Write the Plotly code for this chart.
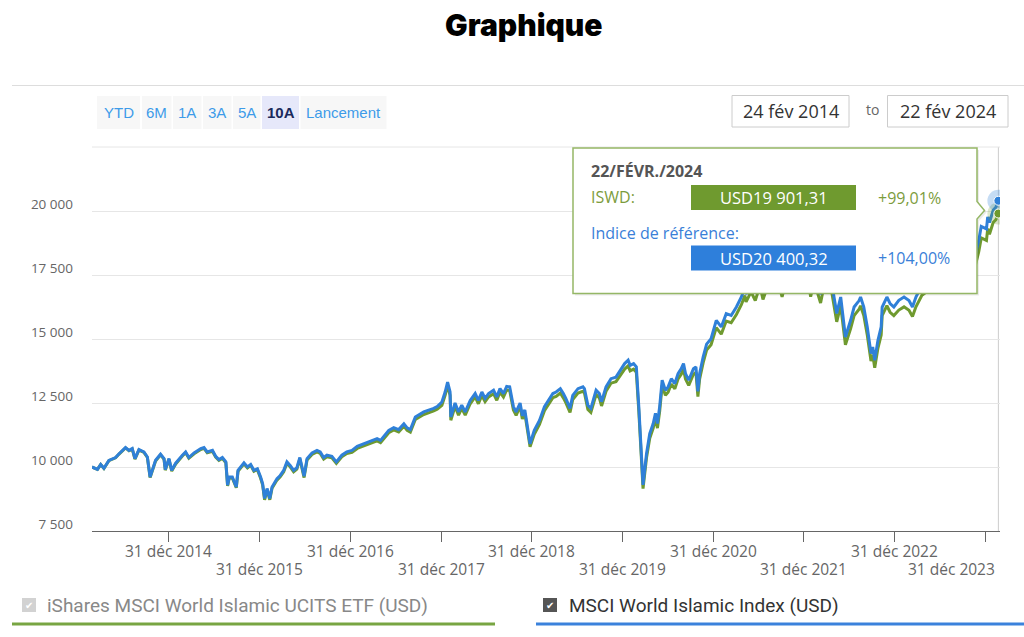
import plotly.graph_objects as go

# ---------------- DATA ----------------
dates = [
    "2014-02-24", "2014-03-18", "2014-03-31", "2014-04-13", "2014-05-03", "2014-05-30", "2014-06-13",
    "2014-07-09", "2014-07-23", "2014-08-05", "2014-08-16", "2014-09-01", "2014-09-21", "2014-10-05",
    "2014-10-16", "2014-11-07", "2014-11-27", "2014-12-11", "2014-12-16", "2014-12-31",
    "2015-01-11", "2015-01-27", "2015-02-23", "2015-03-08", "2015-03-21", "2015-04-11", "2015-05-08",
    "2015-05-21", "2015-06-03", "2015-06-24", "2015-07-07", "2015-07-20", "2015-08-03", "2015-08-17",
    "2015-08-24", "2015-08-31", "2015-09-12", "2015-09-28", "2015-10-05", "2015-10-16", "2015-10-29",
    "2015-11-12", "2015-11-25", "2015-12-08", "2015-12-22",
    "2016-01-04", "2016-01-12", "2016-01-20", "2016-01-30", "2016-02-10", "2016-02-19", "2016-03-10",
    "2016-03-23", "2016-04-06", "2016-04-19", "2016-05-02", "2016-05-16", "2016-05-29", "2016-06-10",
    "2016-06-27", "2016-07-09", "2016-07-29", "2016-08-18", "2016-08-31", "2016-09-14", "2016-09-27",
    "2016-10-17", "2016-11-04", "2016-11-13", "2016-11-26", "2016-12-16",
    "2017-01-06", "2017-01-27", "2017-02-16", "2017-03-08", "2017-03-28", "2017-04-17", "2017-05-01",
    "2017-05-14", "2017-06-03", "2017-06-23", "2017-07-13", "2017-08-03", "2017-08-16", "2017-08-29",
    "2017-09-18", "2017-10-22", "2017-11-18", "2017-12-01", "2017-12-15",
    "2018-01-03", "2018-01-16", "2018-01-26", "2018-02-05", "2018-02-08", "2018-02-25", "2018-03-11",
    "2018-03-24", "2018-04-07", "2018-04-27", "2018-05-17", "2018-05-30", "2018-06-13", "2018-06-26",
    "2018-07-10", "2018-07-30", "2018-08-12", "2018-08-25", "2018-09-08", "2018-09-21", "2018-10-03",
    "2018-10-18", "2018-10-29", "2018-11-14", "2018-11-23", "2018-12-03", "2018-12-17", "2018-12-24",
    "2019-01-10", "2019-01-31", "2019-02-20", "2019-03-12", "2019-03-26", "2019-04-08", "2019-04-25",
    "2019-05-07", "2019-05-17", "2019-06-03", "2019-06-14", "2019-07-05", "2019-07-25", "2019-07-31",
    "2019-08-14", "2019-08-26", "2019-09-05", "2019-09-16", "2019-09-29", "2019-10-08", "2019-10-26",
    "2019-11-15", "2019-12-05", "2019-12-26",
    "2020-01-09", "2020-01-23", "2020-01-31", "2020-02-14", "2020-02-25", "2020-03-06", "2020-03-16",
    "2020-03-23", "2020-04-06", "2020-04-19", "2020-05-03", "2020-05-12", "2020-05-20", "2020-05-29",
    "2020-06-08", "2020-06-21", "2020-07-02", "2020-07-15", "2020-07-29", "2020-08-11", "2020-08-24",
    "2020-09-02", "2020-09-10", "2020-09-23", "2020-10-12", "2020-10-22", "2020-10-30", "2020-11-06",
    "2020-11-20", "2020-12-04", "2020-12-22",
    "2021-01-12", "2021-02-01", "2021-02-21", "2021-03-13", "2021-04-03", "2021-04-23", "2021-05-07",
    "2021-05-12", "2021-06-01", "2021-06-18", "2021-07-07", "2021-07-19", "2021-08-15", "2021-09-06",
    "2021-10-04", "2021-11-08", "2021-11-30", "2021-12-27",
    "2022-01-04", "2022-01-27", "2022-02-10", "2022-03-08", "2022-03-29", "2022-04-20", "2022-05-01",
    "2022-05-12", "2022-05-28", "2022-06-10", "2022-06-16", "2022-07-07", "2022-07-21", "2022-08-10",
    "2022-08-16", "2022-08-29", "2022-09-12", "2022-09-27", "2022-10-04", "2022-10-12", "2022-10-25",
    "2022-11-07", "2022-11-11", "2022-11-30", "2022-12-13", "2022-12-28",
    "2023-01-17", "2023-02-07", "2023-02-27", "2023-03-13", "2023-03-27", "2023-04-20", "2023-05-31",
    "2023-06-30", "2023-07-31", "2023-08-18", "2023-09-15", "2023-10-27", "2023-11-30", "2023-12-05",
    "2023-12-15", "2024-01-05", "2024-01-10", "2024-01-17", "2024-02-01", "2024-02-12", "2024-02-22",
]

index_values = [  # MSCI World Islamic Index (USD), rebased to 10 000
    10000, 9910, 10100, 9950, 10260, 10370, 10520,
    10760, 10650, 10720, 10330, 10680, 10590, 10390,
    9610, 10260, 10500, 10330, 9900, 10330,
    9870, 10150, 10460, 10590, 10370, 10550, 10720,
    10760, 10590, 10650, 10420, 10290, 10370, 10200,
    9290, 9610, 9610, 9220, 9870, 10000, 10160,
    10000, 10100, 9870, 9930,
    9610, 9350, 8770, 9160, 8770, 9220, 9540,
    9670, 9870, 10200, 10060, 9870, 9970, 10370,
    9640, 10330, 10550, 10650, 10590, 10370, 10460,
    10420, 10200, 10290, 10460, 10590,
    10650, 10810, 10890, 10980, 11040, 11110, 11040,
    11200, 11430, 11540, 11460, 11690, 11530, 11460,
    11950, 12150, 12230, 12290, 12360,
    12540, 12930, 13320, 12930, 11950, 12500, 12150,
    12420, 12150, 12600, 12870, 12600, 12930, 12680,
    12870, 13000, 12740, 13060, 12870, 13150, 13130,
    12360, 12150, 12500, 12000, 12230, 11430, 10910,
    11430, 11820, 12360, 12680, 12870, 12930, 13060,
    12870, 12680, 12290, 12800, 13060, 13130, 13060,
    12410, 12290, 12600, 13000, 12870, 12550, 13130,
    13450, 13510, 13840,
    14040, 14170, 13970, 14040, 13910, 12360, 10780,
    9300, 10520, 11300, 11700, 12100, 11700, 12360,
    13390, 13000, 13130, 13450, 13260, 13650, 13840,
    14040, 13650, 13390, 13840, 13910, 12950, 13650,
    14290, 14800, 15010,
    15730, 15470, 15990, 15920, 16250, 16640, 17000,
    16750, 17150, 16800, 17400, 16850, 17600, 17950,
    16950, 18300, 17700, 18500,
    18450, 17000, 17600, 16750, 17800, 17300, 16640,
    16000, 16640, 15470, 15080, 15730, 16250, 16500,
    16640, 16250, 15470, 14430, 14690, 14170, 14950,
    15470, 16250, 16640, 16380, 16250,
    16510, 16640, 16500, 16250, 16640, 17100, 17400,
    18300, 18900, 18200, 18350, 17300, 18700, 18850,
    19400, 19300, 19770, 19550, 20030, 20150, 20400.32,
]

etf_values = [  # iShares MSCI World Islamic UCITS ETF (USD), rebased to 10 000
    10000, 9905, 10095, 9940, 10250, 10360, 10505,
    10745, 10635, 10700, 10310, 10660, 10570, 10370,
    9590, 10235, 10475, 10305, 9875, 10300,
    9840, 10120, 10430, 10555, 10340, 10515, 10685,
    10725, 10555, 10615, 10385, 10255, 10335, 10165,
    9260, 9580, 9575, 9190, 9835, 9965, 10125,
    9965, 10065, 9835, 9895,
    9560, 9300, 8720, 9110, 8720, 9170, 9490,
    9615, 9815, 10145, 10005, 9815, 9915, 10315,
    9585, 10275, 10490, 10590, 10530, 10310, 10400,
    10360, 10140, 10230, 10400, 10530,
    10570, 10725, 10805, 10890, 10950, 11020, 10950,
    11110, 11340, 11450, 11370, 11595, 11435, 11365,
    11855, 12050, 12130, 12190, 12260,
    12410, 12795, 13180, 12795, 11825, 12370, 12025,
    12290, 12025, 12470, 12735, 12470, 12795, 12550,
    12735, 12865, 12605, 12925, 12735, 13010, 12990,
    12230, 12020, 12370, 11875, 12100, 11310, 10795,
    11280, 11665, 12200, 12515, 12705, 12760, 12890,
    12700, 12515, 12130, 12635, 12890, 12960, 12890,
    12250, 12130, 12435, 12830, 12700, 12385, 12960,
    13275, 13335, 13660,
    13825, 13950, 13755, 13825, 13695, 12170, 10615,
    9155, 10360, 11125, 11520, 11915, 11520, 12170,
    13185, 12800, 12925, 13240, 13055, 13440, 13625,
    13825, 13440, 13185, 13625, 13695, 12750, 13440,
    14070, 14570, 14775,
    15445, 15190, 15700, 15635, 15955, 16340, 16695,
    16450, 16840, 16500, 17085, 16545, 17285, 17625,
    16645, 17970, 17380, 18165,
    18070, 16650, 17240, 16405, 17435, 16945, 16300,
    15670, 16300, 15155, 14770, 15410, 15915, 16160,
    16300, 15915, 15155, 14135, 14390, 13880, 14645,
    15155, 15915, 16300, 16045, 15915,
    16130, 16255, 16120, 15875, 16255, 16705, 17000,
    17880, 18465, 17780, 17925, 16900, 18265, 18410,
    18950, 18850, 19310, 19090, 19550, 19660, 19901.31,
]

y_ticks = [7500, 10000, 12500, 15000, 17500, 20000, 22500]
y_tick_labels = ["7\u00a0500", "10\u00a0000", "12\u00a0500", "15\u00a0000", "17\u00a0500", "20\u00a0000", ""]
x_ticks = ["2014-12-31", "2015-12-31", "2016-12-31", "2017-12-31", "2018-12-31",
           "2019-12-31", "2020-12-31", "2021-12-31", "2022-12-31", "2023-12-31"]
x_tick_labels = ["31 déc 2014", "31 déc 2015", "31 déc 2016", "31 déc 2017", "31 déc 2018",
                 "31 déc 2019", "31 déc 2020", "31 déc 2021", "31 déc 2022", "31 déc 2023"]

range_buttons = ["YTD", "6M", "1A", "3A", "5A", "10A", "Lancement"]
selected_button = "10A"
date_from, date_to = "24 fév 2014", "22 fév 2024"
series_names = ["iShares MSCI World Islamic UCITS ETF (USD)", "MSCI World Islamic Index (USD)"]
tooltip_date = "22/FÉVR./2024"
tooltip_etf_label, tooltip_etf_value, tooltip_etf_perf = "ISWD:", "USD19\u00a0901,31", "+99,01%"
tooltip_idx_label, tooltip_idx_value, tooltip_idx_perf = "Indice de référence:", "USD20\u00a0400,32", "+104,00%"

# ---------------- STYLE / LAYOUT ----------------
GREEN = "#6f9a2f"
BLUE = "#2f80d8"
W, H = 1024, 637
L, R, T, B = 92, 1000, 147, 531


def px(x):
    return (x - L) / (R - L)


def py(y):
    return (B - y) / (B - T)


fig = go.Figure()
fig.add_trace(go.Scatter(x=dates, y=etf_values, mode="lines", line=dict(color=GREEN, width=3), hoverinfo="skip"))
fig.add_trace(go.Scatter(x=dates, y=index_values, mode="lines", line=dict(color=BLUE, width=3), hoverinfo="skip"))
# hover halos + markers on last point
fig.add_trace(go.Scatter(x=[dates[-1]], y=[etf_values[-1]], mode="markers",
                         marker=dict(size=22, color="rgba(111,154,47,0.25)"), hoverinfo="skip"))
fig.add_trace(go.Scatter(x=[dates[-1]], y=[index_values[-1]], mode="markers",
                         marker=dict(size=22, color="rgba(47,128,216,0.28)"), hoverinfo="skip"))
fig.add_trace(go.Scatter(x=[dates[-1]], y=[etf_values[-1]], mode="markers",
                         marker=dict(size=9, color=GREEN, line=dict(color="white", width=1)), hoverinfo="skip"))
fig.add_trace(go.Scatter(x=[dates[-1]], y=[index_values[-1]], mode="markers",
                         marker=dict(size=9, color=BLUE, line=dict(color="white", width=1)), hoverinfo="skip"))

shapes = []
annotations = []

# crosshair at hovered (last) point
shapes.append(dict(type="line", xref="x", yref="paper", x0=dates[-1], x1=dates[-1], y0=0, y1=1,
                   line=dict(color="#cccccc", width=1), layer="below"))
# top grid line
shapes.append(dict(type="line", xref="paper", yref="paper", x0=0, x1=1, y0=1, y1=1,
                   line=dict(color="#e6e6e6", width=1), layer="below"))
# header separator
shapes.append(dict(type="line", xref="paper", yref="paper", x0=px(12), x1=px(1024), y0=py(85.5), y1=py(85.5),
                   line=dict(color="#dddddd", width=1)))


def rect(x0, y0, x1, y1, fill, line_color=None, lw=1):
    return dict(type="rect", xref="paper", yref="paper", x0=px(x0), x1=px(x1), y0=py(y1), y1=py(y0),
                fillcolor=fill, line=dict(color=line_color or "rgba(0,0,0,0)", width=lw if line_color else 0),
                layer="above")


def text(x, y, s, size=14, color="#333", family="Open Sans", xanchor="center", weight=None):
    f = dict(family=family, size=size, color=color)
    if weight:
        f["weight"] = weight
    return dict(xref="paper", yref="paper", x=px(x), y=py(y), text=s, showarrow=False, font=f,
                xanchor=xanchor, yanchor="middle")


# title
annotations.append(text(524, 25, "Graphique", size=30, color="#000", family="Inter", weight=900))

# range selector buttons
btn_pos = [(97, 140), (142, 171.5), (173, 201.5), (203, 231.5), (233, 260.5), (262, 299), (300.5, 386.5)]
for lab, (a, b) in zip(range_buttons, btn_pos):
    sel = lab == selected_button
    shapes.append(rect(a, 96, b, 129, "#e6e8fa" if sel else "#f7f7f7"))
    annotations.append(text((a + b) / 2, 112.5, lab, size=15, family="Liberation Sans",
                            color="#1b2a5c" if sel else "#3d9be9", weight="bold" if sel else None))

# date inputs
shapes.append(rect(732, 95.5, 849, 127, "white", "#cccccc"))
shapes.append(rect(887.5, 95.5, 1008, 127, "white", "#cccccc"))
annotations.append(text(791, 111, date_from, size=18, color="#333"))
annotations.append(text(948, 111, date_to, size=18, color="#333"))
annotations.append(text(872.5, 109.5, "to", size=14, color="#666"))

# x tick labels (alternating rows)
for i, (tv, tl) in enumerate(zip(x_ticks, x_tick_labels)):
    yrow = 550.5 if i % 2 == 0 else 568.5
    if i == len(x_ticks) - 1:
        annotations.append(text(997, yrow, tl, size=15.5, color="#666", xanchor="right"))
    else:
        annotations.append(dict(xref="x", yref="paper", x=tv, y=py(yrow), text=tl, showarrow=False,
                                font=dict(family="Open Sans", size=15.5, color="#666"),
                                xanchor="center", yanchor="middle"))

# tooltip box with pointer
tt = [(573, 148), (977, 148), (977, 201.5), (984.5, 210.5), (977, 219), (977, 293.5), (573, 293.5)]
shadow = "M " + " L ".join(f"{px(x + 2)},{py(y + 2)}" for x, y in tt) + " Z"
shapes.append(dict(type="path", xref="paper", yref="paper", path=shadow,
                   fillcolor="rgba(0,0,0,0.08)", line=dict(width=0), layer="above"))
path = "M " + " L ".join(f"{px(x)},{py(y)}" for x, y in tt) + " Z"
shapes.append(dict(type="path", xref="paper", yref="paper", path=path,
                   fillcolor="white", line=dict(color="#95b766", width=1.5), layer="above"))
shapes.append(rect(691, 185, 856, 210, GREEN))
shapes.append(rect(691, 245.5, 856, 270.5, "#2e7fdb"))
annotations.append(text(589, 170.5, tooltip_date, size=16, color="#555", xanchor="left", weight="bold"))
annotations.append(text(589, 197, tooltip_etf_label, size=16, color="#7c9c3c", xanchor="left"))
annotations.append(text(773.5, 197.5, tooltip_etf_value, size=16.5, color="white"))
annotations.append(text(909, 197.5, tooltip_etf_perf, size=16, color="#7c9c3c"))
annotations.append(text(589, 233, tooltip_idx_label, size=16, color="#3a80d8", xanchor="left"))
annotations.append(text(773.5, 258, tooltip_idx_value, size=16.5, color="white"))
annotations.append(text(914, 258, tooltip_idx_perf, size=16, color="#3a80d8"))

# legend (custom, bottom)
shapes.append(rect(22, 598, 36, 612, "#d2d2d2"))
annotations.append(text(29, 605, "✔", size=10, color="white", family="DejaVu Sans"))
annotations.append(text(45, 605, series_names[0], size=19, color="#888888", family="Roboto", xanchor="left"))
shapes.append(dict(type="line", xref="paper", yref="paper", x0=px(12), x1=px(495), y0=py(624), y1=py(624),
                   line=dict(color="#78a542", width=3)))
shapes.append(rect(543, 598, 557, 612, "#555555"))
annotations.append(text(550, 605, "✔", size=10, color="white", family="DejaVu Sans"))
annotations.append(text(567, 605, series_names[1], size=19, color="#333333", family="Roboto", xanchor="left"))
shapes.append(dict(type="line", xref="paper", yref="paper", x0=px(536), x1=px(1024), y0=py(624), y1=py(624),
                   line=dict(color="#3b82dc", width=3)))

fig.update_layout(
    width=W, height=H,
    margin=dict(l=L, r=W - R, t=T, b=H - B, pad=0),
    paper_bgcolor="white", plot_bgcolor="white",
    showlegend=False, hovermode=False,
    shapes=shapes, annotations=annotations,
)
fig.update_xaxes(type="date", range=["2014-02-24", "2024-02-28 12:00"], tickvals=x_ticks,
                 showticklabels=False, ticks="outside", ticklen=10, tickcolor="#666", tickwidth=1,
                 showline=True, linecolor="#666", linewidth=1, showgrid=False, zeroline=False)
fig.update_yaxes(range=[7500, 22500], tickvals=y_ticks, ticktext=y_tick_labels,
                 showgrid=True, gridcolor="#e6e6e6", gridwidth=1, zeroline=False, showline=False,
                 ticks="", tickfont=dict(family="Open Sans", size=13.5, color="#666"),
                 ticklabelstandoff=18, ticklabelshift=-7)

fig.write_html("out.html")
